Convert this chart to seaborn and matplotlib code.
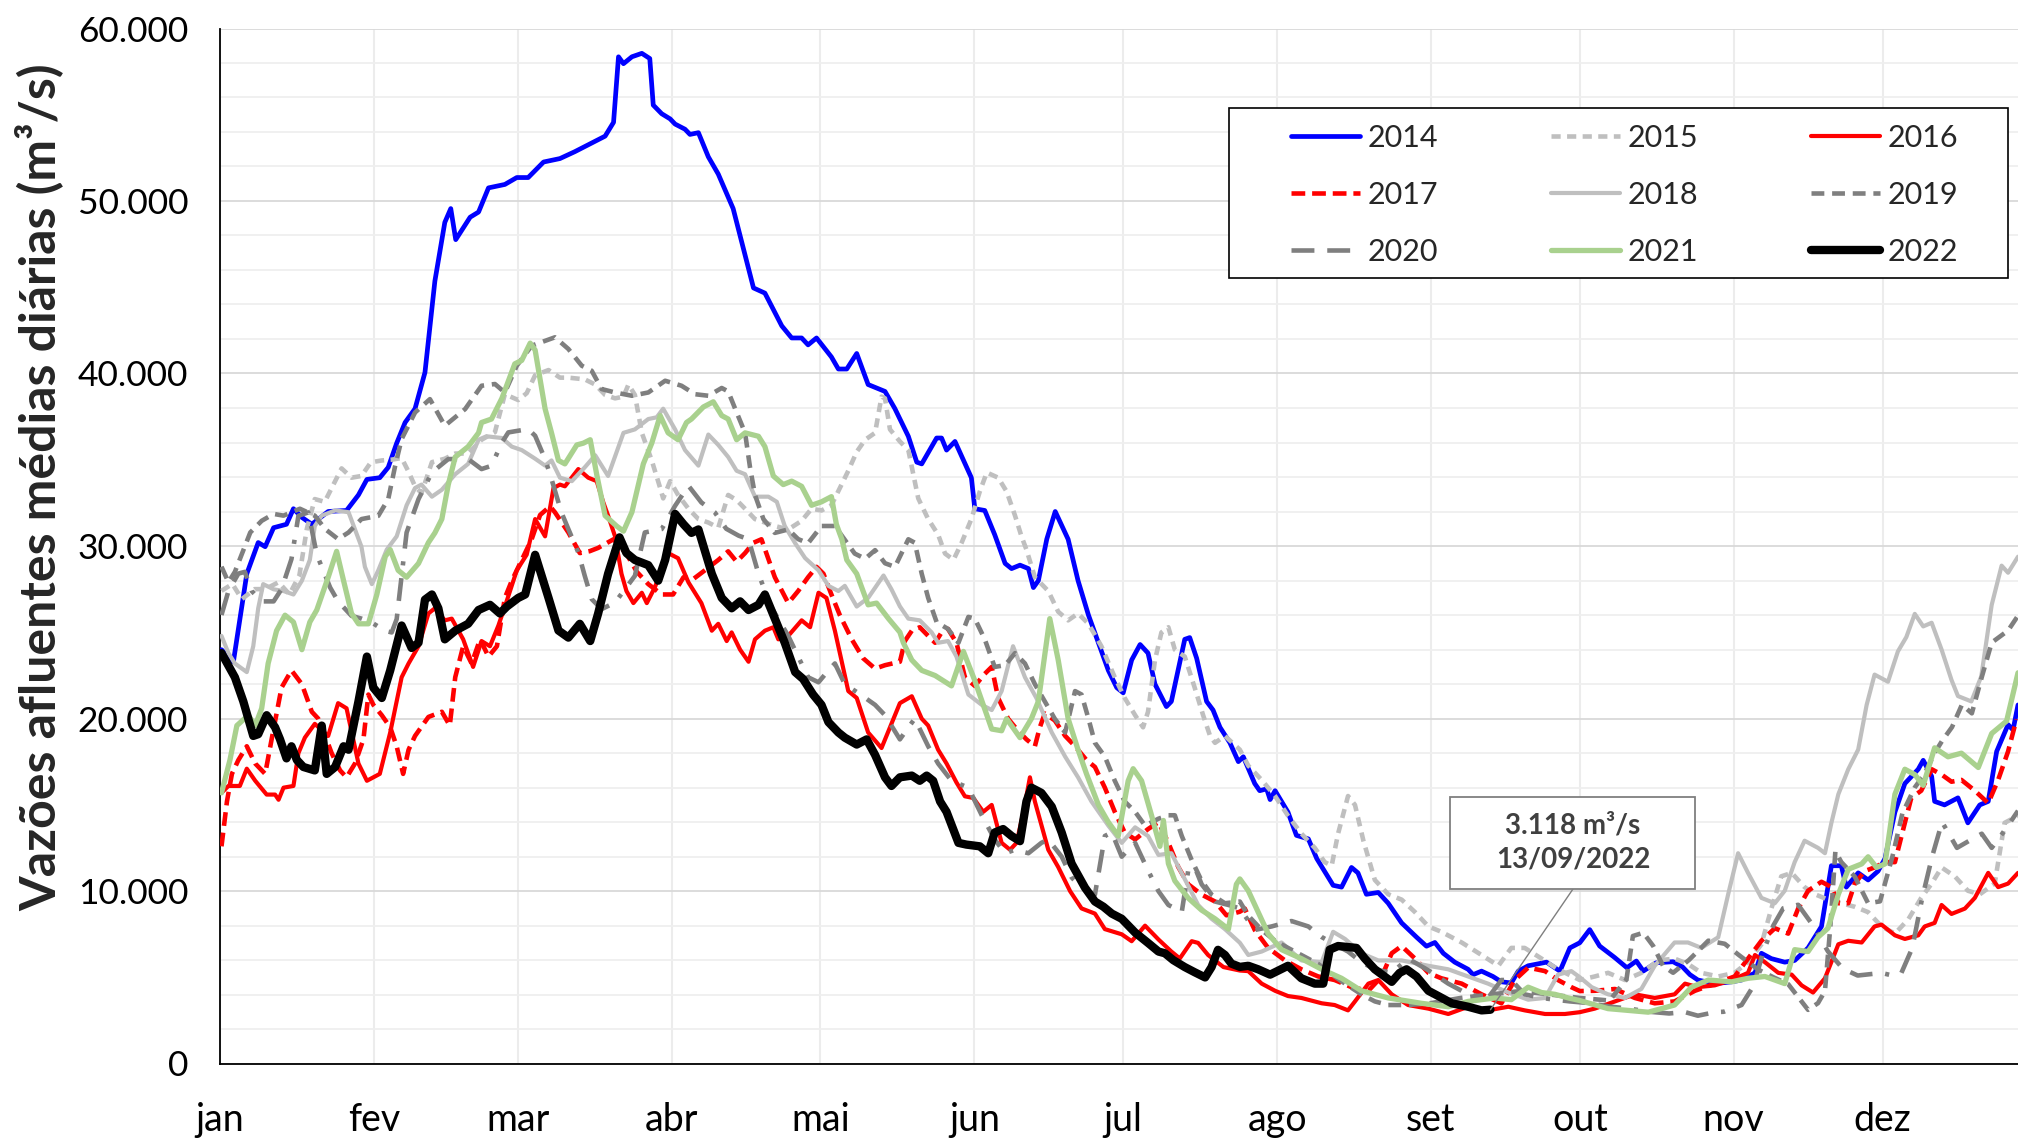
import matplotlib
matplotlib.use("Agg")
import matplotlib.pyplot as plt
import seaborn as sns
from matplotlib.ticker import MultipleLocator, FuncFormatter
from matplotlib.patches import Rectangle

# daily inflow (m3/s); x = day of year (leap calendar, 0 = 1 jan)
d2014 = [0.3, 2.7, 5.4, 7.7, 9.1, 10.8, 13.4, 14.8, 16.5, 18.5, 21.8, 25.5, 27.9, 29.6, 32.2, 33.9, 35.6, 37.3, 39.3, 41.3,
         43.3, 45.3, 46.5, 47.5, 50.4, 52.1, 54.1, 57.4, 59.8, 62.1, 65.2, 68.5, 71.5, 74.2, 77.6, 79.3, 80.3, 81.3, 83.0, 85.0,
         86.6, 87.3, 89.0, 90.7, 91.7, 93.7, 94.7, 96.4, 98.4, 100.4, 103.4, 107.5, 109.8, 113.2, 115.2, 117.2, 118.5, 120.2, 123.2, 124.6,
         126.3, 128.3, 130.6, 134.0, 136.0, 138.7, 140.4, 141.4, 144.4, 145.4, 146.4, 148.1, 151.4, 152.1, 154.1, 156.1, 158.2, 159.5, 161.2, 162.9,
         163.9, 164.9, 166.6, 168.3, 170.9, 172.9, 175.0, 177.0, 179.0, 180.7, 182.0, 183.7, 185.4, 187.0, 188.4, 190.7, 191.7, 194.4, 195.4, 196.8,
         198.8, 200.1, 201.5, 203.5, 205.2, 206.2, 208.5, 209.5, 210.9, 211.6, 212.6, 215.2, 216.9, 219.3, 221.0, 224.3, 226.0, 228.0, 229.3, 231.0,
         233.4, 235.4, 238.1, 241.1, 243.1, 244.8, 246.5, 248.8, 251.5, 252.5, 254.2, 256.5, 258.2, 260.2, 261.6, 263.6, 267.3, 270.0, 272.0, 274.0,
         276.0, 278.0, 281.0, 283.5, 285.4, 286.8, 289.4, 292.8, 294.7, 296.2, 297.8, 301.2, 304.6, 306.6, 309.3, 310.6, 312.6, 315.3, 317.3, 320.0,
         322.7, 324.7, 326.7, 327.7, 330.1, 332.1, 334.1, 335.5, 337.5, 339.5, 342.2, 343.2, 344.9, 345.5, 347.5, 350.2, 352.2, 354.6, 356.3, 358.0,
         360.3, 361.3, 362.3]
v2014 = [23990, 23290, 28390, 30200, 29960, 31060, 31260, 32160, 31660, 31260, 32000, 32060, 32960, 33860, 33960, 34560, 35960, 37160, 37960, 40060,
         45360, 48760, 49560, 47760, 49060, 49360, 50760, 50960, 51360, 51360, 52260, 52460, 52860, 53260, 53760, 54560, 58360, 57960, 58360, 58560,
         58260, 55560, 55060, 54760, 54460, 54160, 53860, 53960, 52560, 51560, 49560, 44960, 44660, 42760, 42060, 42060, 41660, 42060, 40960, 40260,
         40260, 41160, 39360, 38960, 37960, 36360, 34860, 34760, 36260, 36260, 35560, 36060, 33960, 32160, 32060, 30660, 28990, 28690, 28890, 28690,
         27590, 27990, 30400, 32000, 30390, 27990, 25990, 24390, 22790, 21790, 21490, 23390, 24290, 23790, 21990, 20690, 20990, 24590, 24690, 23490,
         20990, 20490, 19490, 18590, 17500, 17780, 16230, 15815, 15920, 15300, 15815, 14570, 13225, 13020, 11880, 10330, 10225, 11365, 11050, 9810,
         9915, 9290, 8150, 7325, 6800, 7015, 6390, 5875, 5460, 5150, 5355, 5045, 4735, 4670, 5355, 5665, 5875, 5355, 6700, 7000,
         7760, 6810, 6150, 5550, 5940, 5360, 5840, 5900, 5600, 5150, 4840, 4630, 4735, 4840, 5255, 6390, 6080, 5875, 5975, 6700,
         7945, 11465, 11465, 10225, 11050, 10640, 11155, 11880, 14575, 16230, 17060, 17575, 16645, 15195, 14990, 15400, 13950, 14990, 15195, 18090,
         19645, 19335, 20785]

d2015 = [0.3, 2.5, 4.4, 7.0, 9.1, 11.8, 14.0, 16.0, 17.5, 19.1, 21.1, 24.5, 26.5, 28.5, 30.4, 32.6, 34.5, 36.6, 38.0, 39.3,
         40.6, 42.7, 45.3, 47.4, 50.0, 52.7, 55.4, 57.4, 60.1, 61.8, 63.5, 66.2, 68.5, 70.2, 73.5, 75.6, 77.6, 79.6, 81.3, 82.3,
         83.6, 85.0, 87.0, 88.7, 89.3, 90.7, 92.3, 94.4, 96.4, 98.4, 100.4, 102.4, 104.1, 105.8, 107.8, 109.8, 111.8, 114.5, 117.2, 119.2,
         121.2, 123.2, 124.9, 126.6, 128.3, 130.0, 132.0, 133.3, 134.0, 135.0, 137.0, 138.7, 140.7, 142.7, 144.7, 146.1, 147.8, 149.4, 151.4, 153.1,
         154.5, 156.8, 158.5, 160.2, 161.5, 162.5, 164.2, 166.9, 168.9, 170.9, 172.9, 175.0, 177.6, 180.3, 182.3, 184.4, 186.0, 187.0, 188.4, 189.7,
         191.1, 192.4, 194.4, 196.4, 198.1, 199.5, 200.5, 202.5, 205.5, 207.2, 209.9, 212.6, 215.2, 217.9, 220.6, 222.6, 224.0, 225.3, 227.3, 228.7,
         230.4, 232.7, 235.4, 238.1, 240.8, 243.5, 246.1, 250.2, 254.2, 257.6, 260.2, 262.9, 266.3, 269.6, 274.0, 277.0, 279.7, 283.1, 286.4, 289.8,
         293.1, 295.8, 298.5, 301.9, 305.2, 307.9, 310.6, 312.6, 314.6, 316.7, 319.3, 321.4, 324.0, 326.7, 329.4, 332.1, 334.8, 337.5, 340.2, 342.8,
         344.9, 346.9, 349.6, 352.2, 354.6, 357.6, 359.6, 362.3]
v2015 = [27400, 27800, 26920, 27500, 27500, 27900, 27200, 28300, 31000, 32720, 32560, 34500, 33960, 34060, 34850, 34960, 35000, 35100, 34300, 33460,
         33060, 34860, 35060, 35360, 35360, 36160, 36600, 38800, 38460, 38860, 39900, 40200, 39760, 39760, 39660, 39360, 38760, 38560, 38660, 39360,
         38760, 36560, 34960, 33360, 32760, 33760, 32960, 32160, 31560, 31360, 31060, 32960, 32660, 32160, 31560, 31360, 31160, 30960, 31460, 32160,
         32060, 32360, 33360, 34360, 35460, 36160, 36560, 38660, 38560, 36760, 36060, 35560, 32760, 31560, 30660, 29560, 29200, 30160, 31560, 33160,
         34260, 33960, 33160, 31760, 30560, 29790, 28190, 27390, 26190, 25690, 26090, 25490, 24190, 22390, 21190, 20190, 19490, 20390, 23390, 24990,
         25290, 23990, 23590, 21790, 20190, 18990, 18590, 18990, 18190, 17265, 16435, 15505, 14365, 13330, 12500, 11675, 11465, 13330, 15505, 14990,
         12915, 10640, 9810, 9500, 8775, 7945, 7635, 7015, 6290, 5665, 6700, 6700, 6080, 5460, 4840, 5045, 5255, 4840, 5255, 5975,
         6080, 5770, 5255, 5045, 5255, 5875, 6910, 8980, 10850, 11050, 10225, 9810, 9500, 9290, 9085, 8775, 7945, 7530, 8360, 9600,
         10430, 11365, 10840, 10015, 9810, 10430, 13950, 14365]

d2016 = [0.3, 1.7, 4.0, 5.4, 7.1, 9.4, 11.1, 11.8, 12.8, 14.8, 15.8, 17.1, 19.1, 21.8, 23.8, 25.5, 27.9, 29.6, 32.2, 34.3,
         36.6, 38.0, 40.0, 42.0, 43.3, 45.3, 46.7, 49.0, 51.0, 52.7, 54.4, 56.1, 58.1, 59.8, 61.8, 63.5, 65.5, 67.2, 68.5, 69.5,
         72.2, 74.2, 75.9, 77.2, 78.2, 79.6, 80.9, 81.9, 83.3, 85.0, 86.0, 87.6, 90.3, 92.3, 94.4, 97.0, 99.1, 100.4, 102.1, 103.1,
         104.8, 106.5, 107.8, 109.8, 111.5, 112.5, 114.5, 117.2, 118.9, 120.6, 122.2, 123.9, 126.6, 128.3, 130.6, 133.3, 135.3, 137.0, 139.4, 141.4,
         142.7, 144.7, 146.4, 148.4, 150.1, 151.8, 153.8, 155.5, 157.5, 159.2, 160.5, 161.9, 163.2, 164.2, 166.9, 168.9, 171.3, 173.6, 176.3, 178.3,
         181.7, 183.7, 186.4, 189.1, 191.7, 193.4, 195.8, 197.1, 199.1, 202.2, 205.5, 207.2, 209.9, 212.6, 215.2, 217.9, 222.0, 224.6, 227.3, 228.7,
         231.4, 233.4, 236.1, 239.4, 243.5, 247.5, 251.5, 255.5, 259.6, 262.9, 267.0, 271.0, 274.0, 277.0, 281.1, 285.1, 289.1, 293.1, 295.2, 297.8,
         301.2, 304.6, 307.9, 309.3, 311.3, 314.0, 316.7, 318.7, 321.0, 323.4, 326.1, 328.1, 330.8, 333.4, 334.8, 337.5, 339.5, 342.2, 343.5, 345.5,
         346.9, 348.9, 351.6, 353.6, 356.3, 358.3, 360.3, 362.3]
v2016 = [15690, 16090, 16090, 17090, 16390, 15590, 15590, 15290, 15990, 16090, 17990, 18890, 19690, 18990, 20890, 20590, 17390, 16390, 16790, 19190,
         22390, 23190, 24190, 26090, 26390, 25690, 25790, 24590, 22990, 24490, 24190, 25390, 27090, 28590, 29500, 31560, 30560, 33360, 33560, 33460,
         34460, 33960, 33760, 32560, 31760, 30560, 28390, 27390, 26690, 27290, 26690, 27590, 29590, 29290, 27890, 26690, 25090, 25490, 24490, 24990,
         23990, 23290, 24590, 25090, 25290, 24590, 24790, 25690, 25290, 27290, 26990, 25090, 21590, 21190, 19190, 18290, 19690, 20890, 21290, 19990,
         19590, 18190, 17390, 16290, 15490, 15390, 14590, 14990, 12790, 12390, 12790, 14590, 16590, 15190, 12390, 11390, 9990, 8990, 8690, 7790,
         7490, 7090, 7990, 7190, 6490, 6090, 7090, 6990, 6290, 5590, 5390, 5355, 4630, 4215, 3910, 3800, 3490, 3390, 3080, 3600,
         4630, 4840, 4010, 3390, 3180, 2870, 3290, 3080, 3290, 3080, 2870, 2870, 2975, 3180, 3600, 4010, 3800, 4010, 4630, 4425,
         4530, 4840, 5255, 6290, 5875, 5255, 5150, 4530, 4115, 4940, 6910, 7115, 7015, 7945, 8050, 7430, 7220, 7430, 7945, 8150,
         9190, 8670, 8980, 9600, 11050, 10225, 10430, 11050]

d2017 = [0.3, 1.4, 2.4, 3.7, 5.4, 7.1, 9.1, 10.4, 12.4, 14.4, 16.5, 18.5, 19.8, 21.2, 22.5, 24.2, 25.5, 27.2, 28.9, 29.9,
         30.9, 32.6, 34.3, 35.6, 36.9, 38.0, 39.3, 42.0, 44.7, 46.3, 47.4, 49.0, 50.7, 52.4, 54.1, 55.8, 57.4, 58.8, 60.8, 62.8,
         64.5, 66.5, 67.5, 70.2, 72.5, 74.5, 76.2, 79.3, 82.0, 84.0, 86.3, 89.0, 91.3, 93.4, 95.4, 97.7, 100.4, 102.4, 104.1, 105.8,
         107.5, 109.1, 111.8, 114.5, 116.5, 118.5, 120.2, 121.6, 123.2, 124.9, 127.3, 129.6, 132.0, 134.0, 137.0, 138.0, 139.4, 141.0, 142.7, 144.1,
         145.4, 146.7, 148.4, 150.1, 152.1, 154.1, 155.5, 156.8, 158.8, 160.8, 162.5, 164.2, 165.2, 166.2, 168.2, 170.3, 172.3, 174.6, 176.3, 178.3,
         180.3, 182.3, 184.4, 187.0, 189.1, 191.1, 193.1, 195.1, 197.8, 200.5, 202.8, 205.5, 206.5, 208.5, 211.2, 214.6, 217.9, 221.3, 224.6, 228.0,
         231.4, 234.1, 236.1, 238.1, 240.8, 243.5, 246.1, 250.2, 254.2, 258.2, 260.9, 263.6, 267.0, 269.6, 272.3, 274.0, 277.0, 281.1, 285.1, 289.1,
         293.1, 297.2, 301.2, 305.2, 307.9, 310.6, 313.3, 316.0, 318.0, 320.0, 322.7, 324.7, 326.1, 328.1, 329.4, 331.4, 333.4, 335.5, 337.5, 339.5,
         340.8, 342.8, 344.9, 346.9, 348.9, 350.9, 353.6, 356.3, 358.3, 360.3, 362.0]
v2017 = [12590, 15190, 16790, 17590, 18390, 17390, 16790, 18790, 21790, 22790, 21990, 20390, 19990, 18990, 17990, 16990, 16590, 17390, 18790, 21390,
         20790, 20190, 19490, 18390, 16790, 18190, 18990, 20090, 20390, 19590, 22390, 24190, 23190, 24590, 23590, 24190, 26990, 27990, 29190, 30390,
         31800, 32300, 31950, 30785, 29590, 29700, 29890, 30390, 29500, 28500, 27790, 27190, 27190, 28190, 28090, 28590, 29190, 29690, 29090, 29590,
         30190, 30390, 28190, 26690, 27390, 28190, 28790, 28390, 27190, 25990, 24590, 23490, 22890, 23090, 23290, 24490, 25090, 25290, 24790, 24390,
         24990, 25190, 24390, 22390, 21890, 22590, 22990, 21190, 19990, 19290, 18790, 18390, 19490, 20290, 19890, 18990, 18390, 17590, 17190, 15990,
         14590, 13390, 12990, 13590, 13990, 12790, 11390, 10390, 9790, 9390, 8590, 8800, 8980, 7740, 6700, 5975, 5460, 5045, 4840, 4425,
         4215, 5045, 6390, 6810, 6080, 5255, 4940, 4630, 4010, 3490, 4840, 5560, 5355, 4840, 4425, 4200, 4215, 4320, 3800, 3490,
         3600, 4215, 4630, 5045, 6080, 7115, 7840, 7530, 8980, 10015, 10535, 10225, 9290, 9290, 10430, 11155, 11365, 11675, 11675, 13950,
         15400, 15815, 17060, 16750, 16335, 16440, 15815, 15090, 16440, 18090, 19955]

d2018 = [0.3, 1.7, 3.0, 5.4, 6.7, 7.7, 8.7, 10.8, 12.8, 14.8, 16.5, 18.1, 19.1, 20.5, 23.2, 25.9, 27.2, 28.5, 29.2, 30.6,
         31.9, 33.6, 35.6, 37.6, 39.3, 40.6, 42.7, 44.7, 47.4, 50.0, 52.1, 53.7, 56.8, 58.8, 60.8, 63.5, 65.5, 66.8, 68.5, 70.9,
         73.5, 75.6, 78.2, 81.3, 83.6, 86.3, 88.0, 89.3, 91.7, 93.7, 96.4, 98.4, 100.4, 102.4, 104.1, 105.8, 107.8, 110.5, 112.2, 113.8,
         115.9, 117.9, 120.6, 122.6, 124.6, 125.9, 128.3, 130.6, 133.7, 135.3, 137.0, 138.7, 141.0, 143.4, 144.7, 146.7, 148.4, 150.8, 153.5, 155.5,
         157.5, 159.8, 162.2, 164.5, 167.6, 170.3, 172.9, 175.6, 179.0, 181.7, 184.4, 187.0, 189.1, 191.7, 194.4, 197.1, 199.8, 202.5, 205.5, 207.2,
         209.9, 213.9, 217.9, 222.0, 224.3, 226.7, 230.0, 233.4, 238.1, 243.5, 247.5, 251.5, 255.5, 259.6, 263.6, 267.0, 269.6, 272.3, 274.0, 276.4,
         279.7, 283.1, 286.4, 289.1, 293.1, 295.8, 298.5, 301.9, 303.9, 305.9, 307.9, 310.6, 313.3, 315.3, 317.3, 319.3, 322.0, 323.4, 324.7, 326.1,
         328.1, 330.1, 331.8, 333.4, 336.1, 338.1, 339.8, 341.5, 343.2, 344.9, 346.9, 348.9, 350.2, 352.9, 354.9, 357.0, 359.0, 360.3, 362.3]
v2018 = [24790, 23790, 23190, 22690, 24190, 26390, 27790, 27490, 27390, 27190, 27990, 29190, 31160, 31760, 32060, 31960, 30960, 29960, 28790, 27790,
         28590, 29790, 30560, 32360, 33360, 33560, 32860, 33260, 34160, 34760, 36160, 36360, 36260, 35760, 35560, 35060, 34660, 34960, 33960, 33760,
         34560, 35260, 34060, 36560, 36760, 37360, 37460, 37960, 36760, 35560, 34660, 36460, 35860, 35160, 34360, 34160, 32860, 32860, 32560, 31160,
         30160, 29300, 28590, 27690, 27390, 27690, 26490, 26990, 28290, 27490, 26500, 25790, 25690, 24990, 24390, 24490, 23590, 21390, 20790, 20490,
         21590, 24190, 22390, 21190, 19190, 17790, 16590, 15190, 13790, 12790, 13690, 13190, 12090, 12190, 10690, 9190, 8390, 7790, 7000, 6290,
         6490, 7015, 5975, 5875, 7635, 7220, 6390, 5975, 5975, 5665, 5460, 5045, 4630, 4115, 3700, 3800, 5150, 5355, 5000, 4425,
         4010, 3800, 4320, 5665, 7015, 7015, 6700, 7320, 9810, 12190, 11050, 9600, 9290, 10015, 11675, 12915, 12500, 12190, 13950, 15610,
         17060, 18200, 20785, 22545, 22130, 23890, 24720, 26065, 25340, 25550, 23995, 22235, 21300, 20990, 22440, 26585, 28860, 28450, 29380]

d2019 = [0.3, 1.7, 3.0, 6.1, 8.4, 10.8, 12.8, 16.1, 19.1, 21.2, 23.8, 25.9, 28.5, 31.9, 33.9, 35.3, 36.6, 39.3, 42.3, 45.3,
         49.4, 52.7, 55.4, 57.4, 59.8, 62.8, 67.5, 70.2, 72.9, 74.9, 76.9, 79.6, 83.0, 86.3, 89.7, 93.0, 95.7, 98.4, 101.1, 102.4,
         103.8, 105.8, 106.8, 107.8, 109.5, 111.8, 114.5, 116.5, 118.5, 121.2, 123.9, 125.9, 127.9, 130.0, 132.0, 134.0, 136.0, 138.7, 140.0, 141.4,
         142.7, 144.4, 146.7, 148.8, 150.8, 152.1, 154.1, 156.1, 158.2, 160.2, 162.2, 164.2, 166.2, 168.2, 170.3, 172.3, 173.6, 175.0, 176.3, 178.3,
         180.3, 182.3, 184.4, 186.4, 189.1, 191.1, 192.4, 193.8, 195.8, 197.8, 199.8, 202.5, 205.5, 207.2, 209.9, 212.6, 215.2, 217.9, 221.3, 224.6,
         226.7, 230.0, 232.7, 235.4, 239.4, 244.0, 250.0, 256.0, 262.0, 268.0, 274.0, 280.0, 283.4, 284.7, 286.8, 288.8, 290.8, 292.8, 296.0, 299.9,
         303.2, 306.0, 309.9, 313.0, 316.0, 320.0, 322.0, 323.4, 324.5, 325.5, 326.7, 329.4, 332.1, 334.5, 337.0, 339.0, 341.5, 343.5, 345.5, 347.0,
         349.0, 351.0, 353.0, 355.0, 357.0, 360.3, 362.3]
v2019 = [28800, 27900, 28500, 30785, 31460, 31860, 31760, 32160, 31760, 30980, 30400, 30785, 31560, 31750, 32720, 34650, 36200, 37740, 38515, 36970,
         37940, 39290, 39390, 38900, 40450, 41610, 42100, 41420, 40450, 40160, 39100, 38900, 38710, 38900, 39580, 39290, 38800, 38710, 39160, 38960,
         37960, 36560, 34560, 32960, 31560, 30760, 30960, 30400, 30160, 31160, 31160, 30360, 29560, 29260, 29760, 29000, 28790, 30390, 30190, 28390,
         26990, 25590, 25190, 24390, 25890, 25790, 24590, 22990, 23090, 23790, 23190, 21990, 20990, 19990, 19190, 21590, 21390, 19990, 18590, 17790,
         16390, 15190, 14590, 13790, 14190, 14390, 14390, 13190, 11790, 10590, 9790, 9290, 9390, 8570, 7740, 7115, 6700, 6290, 5770, 5045,
         4630, 4010, 3600, 3390, 3390, 3500, 3800, 4000, 4200, 4000, 3800, 3650, 4870, 7390, 7580, 6810, 5650, 5260, 6000, 7120,
         6940, 6300, 5450, 5000, 4600, 3110, 3500, 4200, 8000, 12300, 11675, 10840, 9290, 9400, 12000, 14500, 16000, 16800, 18000, 18700,
         19500, 20800, 20300, 22400, 24400, 25100, 25960]

d2020 = [0.3, 1.7, 3.7, 5.0, 6.4, 8.4, 10.8, 12.4, 14.4, 15.8, 17.8, 19.5, 22.2, 23.8, 26.5, 28.5, 30.6, 33.2, 34.6, 35.6,
         37.6, 40.0, 42.7, 46.0, 50.0, 52.7, 54.7, 56.8, 58.1, 62.1, 63.5, 65.5, 66.8, 68.8, 70.2, 72.2, 73.5, 74.9, 76.9, 79.6,
         81.6, 83.6, 85.6, 89.0, 91.7, 94.4, 97.0, 99.7, 102.0, 104.5, 106.5, 108.5, 111.0, 114.5, 118.5, 120.6, 122.6, 123.9, 125.9, 129.0,
         132.0, 134.0, 137.0, 138.5, 140.0, 142.7, 144.7, 147.4, 150.8, 153.5, 156.1, 158.2, 160.2, 162.9, 165.5, 166.9, 169.6, 171.6, 173.6, 176.3,
         178.3, 179.7, 181.7, 183.0, 184.4, 187.0, 189.1, 191.1, 193.8, 195.1, 196.4, 197.8, 200.5, 203.2, 205.5, 208.5, 211.9, 215.9, 219.3, 222.0,
         224.6, 227.3, 230.0, 232.7, 236.1, 239.4, 243.5, 247.5, 251.5, 255.5, 258.2, 260.2, 262.9, 266.3, 269.0, 272.0, 276.0, 280.0, 284.0, 288.0,
         292.0, 295.2, 297.8, 301.2, 303.0, 306.6, 309.0, 311.0, 313.0, 315.0, 318.0, 321.0, 324.0, 327.0, 330.0, 334.8, 337.0, 338.8, 341.0, 343.0,
         345.0, 347.0, 350.0, 353.0, 355.0, 357.0, 359.6, 362.3]
v2020 = [26000, 27390, 28400, 28500, 27390, 26790, 26790, 27500, 29240, 31750, 31950, 29500, 27590, 26790, 25950, 25790, 25560, 25090, 24990, 25760,
         30780, 32720, 34265, 35040, 35040, 34460, 34650, 36000, 36585, 36780, 36390, 35040, 33880, 31945, 30980, 29625, 28270, 26920, 26340, 26725,
         27500, 28270, 30785, 30980, 32330, 33490, 32525, 31950, 31000, 30600, 30390, 28390, 26500, 24790, 22390, 22100, 22790, 23190, 21990, 21400,
         20790, 20190, 18790, 19400, 19990, 18390, 17390, 16390, 15990, 14390, 12990, 12190, 12390, 12190, 12790, 12990, 11990, 10790, 10190, 9790,
         13190, 13390, 11990, 12390, 12790, 11190, 9990, 9190, 8790, 11190, 11390, 10390, 9390, 9190, 8990, 7740, 7945, 8260, 7945, 7330,
         6910, 6490, 5875, 5460, 5255, 6080, 5400, 4630, 4010, 3800, 4840, 4840, 4010, 3800, 3700, 3600, 3500, 3300, 3180, 3000,
         2900, 2980, 2770, 2975, 3000, 3390, 4500, 6500, 8000, 9000, 9200, 8000, 6500, 5500, 5100, 5250, 5100, 5250, 6700, 9600,
         12000, 14000, 12500, 13000, 13320, 12500, 13500, 14650]

d2021 = [0.3, 2.0, 3.4, 5.7, 7.1, 8.4, 9.7, 11.4, 13.1, 14.8, 16.5, 18.1, 19.5, 21.8, 23.5, 24.9, 26.5, 27.9, 29.9, 31.6,
         33.3, 34.3, 35.9, 37.6, 40.0, 42.0, 43.3, 44.7, 46.0, 47.4, 50.0, 52.1, 52.7, 54.7, 56.8, 59.4, 60.8, 62.5, 63.5, 65.5,
         66.8, 68.2, 69.5, 71.9, 73.2, 74.6, 75.9, 77.6, 79.9, 81.3, 83.0, 85.3, 87.0, 88.7, 90.3, 92.3, 94.0, 95.0, 97.4, 99.4,
         101.1, 102.4, 104.1, 105.8, 108.5, 109.8, 111.5, 113.5, 115.2, 117.2, 119.2, 121.2, 123.2, 124.2, 125.3, 126.3, 128.3, 130.6, 132.3, 134.7,
         137.0, 137.7, 139.4, 141.4, 144.1, 147.4, 149.8, 152.1, 153.8, 155.5, 157.5, 158.5, 161.2, 163.5, 164.9, 167.2, 168.9, 170.9, 172.9, 174.6,
         177.0, 179.0, 181.0, 183.0, 184.0, 185.7, 187.7, 189.4, 190.1, 191.1, 192.4, 195.1, 197.8, 200.5, 203.2, 204.8, 205.5, 207.2, 209.2, 211.2,
         213.9, 217.9, 222.0, 226.0, 230.0, 235.4, 242.1, 247.5, 251.5, 256.9, 260.2, 263.6, 266.3, 269.0, 271.7, 274.0, 279.7, 287.8, 293.1, 296.5,
         299.9, 304.6, 307.9, 311.3, 315.3, 317.3, 320.0, 322.0, 324.0, 326.1, 328.1, 330.8, 332.1, 333.8, 335.5, 337.5, 339.5, 341.5, 343.2, 345.5,
         348.2, 350.9, 354.3, 357.0, 360.0, 362.3]
v2021 = [15690, 17590, 19590, 20190, 19590, 20590, 23190, 25090, 25990, 25590, 23990, 25590, 26290, 28190, 29690, 27990, 26090, 25490, 25490, 27190,
         29390, 29790, 28590, 28190, 28990, 30200, 30760, 31560, 33560, 35160, 35760, 36560, 37160, 37360, 38560, 40560, 40760, 41760, 41360, 37960,
         36560, 34960, 34760, 35860, 35960, 36160, 34160, 31760, 31160, 30860, 31960, 34760, 35960, 37560, 36560, 36160, 37160, 37360, 38060, 38360,
         37560, 37360, 36160, 36560, 36360, 35760, 34060, 33560, 33760, 33460, 32360, 32560, 32860, 31260, 30390, 29190, 28390, 26590, 26690, 25790,
         25000, 24390, 23390, 22790, 22490, 21890, 23890, 22190, 20790, 19390, 19290, 19990, 18890, 19990, 20990, 25790, 23390, 19990, 18190, 16790,
         14990, 13990, 13190, 16390, 17090, 16390, 14390, 12590, 14090, 11590, 10590, 9590, 8890, 8390, 7790, 10390, 10700, 10015, 8775, 7530,
         6600, 6080, 5460, 4940, 4215, 3800, 3490, 3290, 3600, 3800, 3700, 4425, 4115, 4010, 3800, 3650, 3180, 2975, 3390, 4425,
         4840, 4735, 4940, 5045, 4630, 6600, 6490, 7325, 7840, 9810, 11260, 11570, 11985, 11365, 11570, 15610, 17060, 16750, 16125, 18300,
         17780, 17990, 17160, 19130, 19850, 22650]

d2022 = [0.3, 3.0, 4.7, 6.7, 7.7, 9.4, 11.1, 12.1, 13.4, 14.4, 15.5, 16.8, 19.1, 20.5, 21.5, 23.2, 24.9, 25.9, 27.9, 29.6,
         30.9, 32.6, 34.3, 36.6, 38.6, 40.0, 41.3, 42.7, 44.0, 45.3, 47.4, 50.0, 52.1, 54.4, 56.4, 57.8, 60.1, 61.5, 63.5, 66.2,
         68.2, 70.2, 72.5, 74.6, 76.2, 78.2, 80.5, 81.9, 83.6, 86.3, 88.3, 89.7, 91.7, 93.4, 95.0, 96.4, 99.1, 101.1, 103.1, 104.8,
         106.5, 108.5, 109.8, 111.8, 113.8, 115.9, 117.5, 119.5, 121.2, 122.6, 124.6, 125.9, 128.3, 130.3, 132.0, 134.0, 135.3, 137.0, 139.4, 141.0,
         142.4, 143.7, 145.1, 146.4, 148.8, 150.4, 153.1, 154.8, 156.1, 157.8, 159.5, 161.2, 162.5, 163.5, 165.5, 167.6, 169.6, 171.6, 174.3, 176.3,
         178.0, 179.7, 181.7, 184.4, 187.0, 189.1, 190.4, 192.1, 194.4, 196.4, 198.5, 199.8, 201.1, 202.5, 203.8, 205.5, 207.2, 209.2, 211.6, 215.2,
         217.9, 220.6, 222.3, 223.6, 225.3, 229.0, 230.7, 232.7, 236.1, 237.7, 239.1, 241.1, 243.5, 245.5, 248.2, 251.5, 254.2, 256.0]
v2022 = [23790, 22390, 20990, 18990, 19090, 20190, 19490, 18790, 17690, 18390, 17590, 17190, 16990, 19590, 16790, 17190, 18390, 18190, 20990, 23590,
         21790, 21190, 22790, 25390, 24090, 24390, 26890, 27190, 26390, 24590, 25090, 25490, 26290, 26590, 26090, 26490, 26990, 27190, 29490, 26990,
         25100, 24690, 25490, 24490, 26090, 28390, 30500, 29590, 29190, 28890, 27990, 29190, 31860, 31260, 30760, 30960, 28390, 26990, 26390, 26790,
         26290, 26590, 27190, 25790, 24390, 22690, 22290, 21390, 20790, 19790, 19190, 18890, 18490, 18790, 17890, 16590, 16090, 16590, 16690, 16390,
         16690, 16390, 15190, 14590, 12790, 12690, 12590, 12190, 13390, 13590, 13190, 12890, 15190, 15990, 15690, 14890, 13390, 11590, 10190, 9390,
         9090, 8690, 8390, 7590, 6990, 6490, 6390, 5990, 5590, 5290, 4990, 5590, 6590, 6290, 5790, 5600, 5665, 5460, 5150, 5665,
         4940, 4630, 4630, 6600, 6810, 6700, 6080, 5460, 4735, 5255, 5460, 5045, 4215, 3910, 3490, 3290, 3080, 3118]

years = ["2014", "2015", "2016", "2017", "2018", "2019", "2020", "2021", "2022"]
days = [d2014, d2015, d2016, d2017, d2018, d2019, d2020, d2021, d2022]
flows = [v2014, v2015, v2016, v2017, v2018, v2019, v2020, v2021, v2022]

month_starts = [0, 31, 60, 91, 121, 152, 182, 213, 244, 274, 305, 335]
month_labels = ["jan", "fev", "mar", "abr", "mai", "jun", "jul", "ago", "set", "out", "nov", "dez"]

min_day = 256
min_flow = 3118

styles = {
    "2014": dict(color="#0000ff", lw=3.4, ls="-"),
    "2015": dict(color="#bfbfbf", lw=3.3, ls=(0, (2.0, 1.4))),
    "2016": dict(color="#ff0000", lw=3.0, ls="-"),
    "2017": dict(color="#ff0000", lw=3.3, ls=(0, (3.0, 1.5))),
    "2018": dict(color="#bfbfbf", lw=3.0, ls="-"),
    "2019": dict(color="#7f7f7f", lw=3.3, ls=(0, (2.8, 1.7))),
    "2020": dict(color="#7f7f7f", lw=3.3, ls=(0, (5.0, 2.8, 5.0, 2.8, 0.9, 2.8))),
    "2021": dict(color="#a9d18e", lw=3.8, ls="-"),
    "2022": dict(color="#000000", lw=6.0, ls="-"),
}

sns.set_style("white")
plt.rcParams["font.family"] = ["Lato", "DejaVu Sans"]

fig = plt.figure(figsize=(20.18, 11.38), dpi=100)
ax = fig.add_axes([220 / 2018, 74.5 / 1138, 1798 / 2018, 1035 / 1138])

for i, (yr, d, v) in enumerate(zip(years, days, flows)):
    st = styles[yr]
    sns.lineplot(x=d, y=v, ax=ax, color=st["color"], linewidth=st["lw"],
                 linestyle=st["ls"], label=yr, estimator=None, sort=False,
                 zorder=3 + i)

ax.set_xlim(0, 362.3)
ax.set_ylim(0, 60000)
ax.set_xticks(month_starts)
ax.set_xticklabels(month_labels)
ax.yaxis.set_major_locator(MultipleLocator(10000))
ax.yaxis.set_minor_locator(MultipleLocator(2000))
ax.yaxis.set_major_formatter(FuncFormatter(lambda v, p: f"{v:,.0f}".replace(",", ".")))

ax.grid(axis="x", which="major", color="#ececec", lw=1.5)
ax.grid(axis="y", which="major", color="#d9d9d9", lw=1.3)
ax.grid(axis="y", which="minor", color="#efefef", lw=1.3)
ax.set_axisbelow(True)

for s in ["top", "right"]:
    ax.spines[s].set_visible(False)
for s in ["left", "bottom"]:
    ax.spines[s].set_color("black")
    ax.spines[s].set_linewidth(1.3)

ax.tick_params(axis="x", which="major", direction="inout", length=19, width=1.3,
               labelsize=27, pad=18, colors="black")
ax.tick_params(axis="y", which="major", direction="in", length=9, width=1.3,
               labelsize=25.5, pad=23, colors="black")
ax.tick_params(axis="y", which="minor", length=0)
ax.set_xlabel("")
ax.set_ylabel("")

fig.text(39 / 2018, 1 - 487 / 1138, "Vazões afluentes médias diárias (m³/s)",
         rotation=90, ha="center", va="center", fontsize=36, fontweight="bold")

# legend (row-major order as in the original)
handles, labels = ax.get_legend_handles_labels()
hmap = dict(zip(labels, handles))
order = ["2014", "2017", "2020", "2015", "2018", "2021", "2016", "2019", "2022"]
frame = Rectangle((1229 / 2018, 1 - 278 / 1138), 779 / 2018, 170 / 1138,
                  transform=fig.transFigure, facecolor="white", edgecolor="black",
                  lw=1.2, zorder=20, clip_on=False)
ax.add_patch(frame)
leg = ax.legend([hmap[k] for k in order], order, ncol=3, frameon=False,
                loc="upper left", bbox_to_anchor=(1291 / 2018, 1 - 124 / 1138),
                bbox_transform=fig.transFigure, fontsize=22, handlelength=2.25,
                handletextpad=0.25, columnspacing=3.7, labelspacing=0.95,
                borderpad=0, borderaxespad=0)
leg.set_zorder(21)

# annotation of the 2022 minimum
box = Rectangle((0.684, 0.1686), 0.1363, 0.0889, transform=ax.transAxes,
                facecolor="white", edgecolor="#7f7f7f", lw=1.3, zorder=15)
ax.add_patch(box)
ax.text(0.7525, 0.2135, f"{min_flow:,}".replace(",", ".") + " m³/s\n13/09/2022",
        transform=ax.transAxes, ha="center", va="center", fontsize=20,
        fontweight="bold", color="#404040", linespacing=1.35, zorder=16)
ax.annotate("", xy=(min_day, min_flow), xycoords="data",
            xytext=(0.7525, 0.1686), textcoords="axes fraction",
            arrowprops=dict(arrowstyle="-", color="#7f7f7f", lw=1.0,
                            shrinkA=0, shrinkB=0), zorder=14)

fig.savefig("out.png", dpi=100)
